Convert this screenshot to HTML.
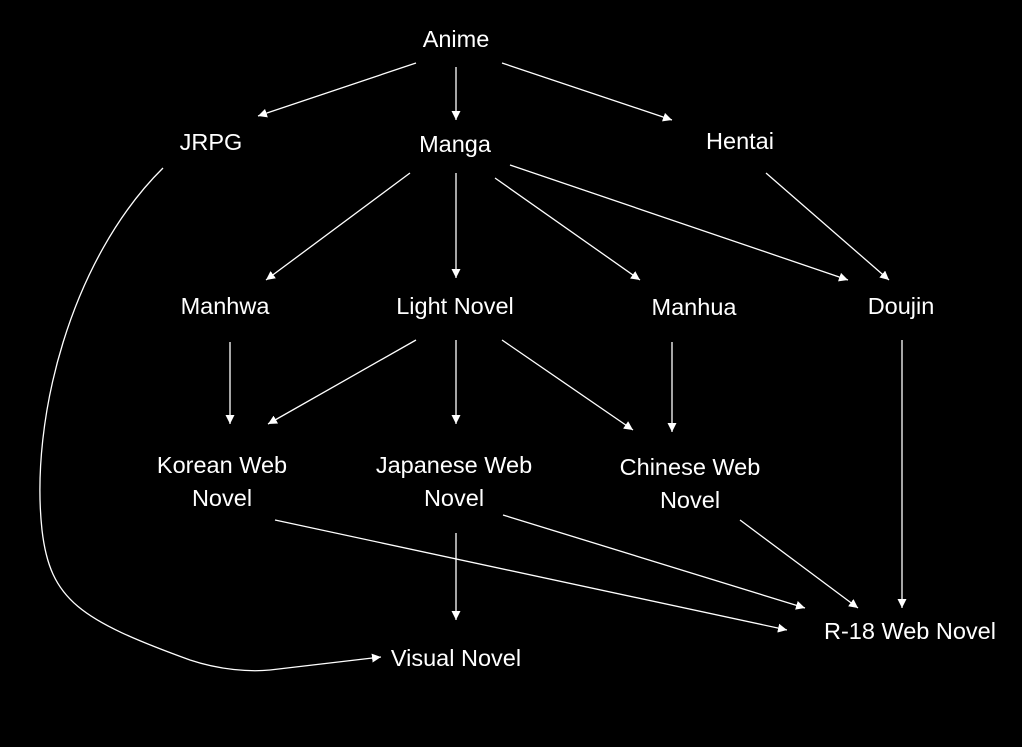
<!DOCTYPE html>
<html><head><meta charset="utf-8"><style>
html,body{margin:0;padding:0;background:#000;width:1022px;height:747px;overflow:hidden}
svg text{font-family:"Liberation Sans",sans-serif;font-size:23.5px;fill:#fff;text-anchor:middle}
</style></head><body>
<svg width="1022" height="747" xmlns="http://www.w3.org/2000/svg">
<defs><marker id="a" viewBox="0 0 10 10" refX="10" refY="5" markerWidth="9" markerHeight="9" markerUnits="userSpaceOnUse" orient="auto"><path d="M0,0L10,5L0,10z" fill="#fff"/></marker></defs>
<g stroke="#fff" stroke-width="1.3" fill="none" marker-end="url(#a)">
<line x1="416" y1="63" x2="258" y2="116"/>
<line x1="456" y1="67" x2="456" y2="120"/>
<line x1="502" y1="63" x2="672" y2="120"/>
<line x1="410" y1="173" x2="266" y2="280"/>
<line x1="456" y1="173" x2="456" y2="278"/>
<line x1="495" y1="178" x2="640" y2="280"/>
<line x1="510" y1="165" x2="848" y2="280"/>
<line x1="766" y1="173" x2="889" y2="280"/>
<line x1="230" y1="342" x2="230" y2="424"/>
<line x1="416" y1="340" x2="268" y2="424"/>
<line x1="456" y1="340" x2="456" y2="424"/>
<line x1="502" y1="340" x2="633" y2="430"/>
<line x1="672" y1="342" x2="672" y2="432"/>
<line x1="902" y1="340" x2="902" y2="608"/>
<line x1="275" y1="520" x2="787" y2="630"/>
<line x1="456" y1="533" x2="456" y2="620"/>
<line x1="503" y1="515" x2="805" y2="608"/>
<line x1="740" y1="520" x2="858" y2="608"/>
<path d="M163,168 C70,260 30,420 42,530 C50,600 80,620 190,660 C220,670 250,672 270,670 L381,657"/>
</g>
<text x="456" y="47">Anime</text>
<text x="211" y="150">JRPG</text>
<text x="455" y="152">Manga</text>
<text x="740" y="149">Hentai</text>
<text x="225" y="314">Manhwa</text>
<text x="455" y="314">Light Novel</text>
<text x="694" y="315">Manhua</text>
<text x="901" y="314">Doujin</text>
<text x="222" y="473">Korean Web</text>
<text x="222" y="506">Novel</text>
<text x="454" y="473">Japanese Web</text>
<text x="454" y="506">Novel</text>
<text x="690" y="475">Chinese Web</text>
<text x="690" y="508">Novel</text>
<text x="910" y="639">R-18 Web Novel</text>
<text x="456" y="666">Visual Novel</text>
</svg>
</body></html>
